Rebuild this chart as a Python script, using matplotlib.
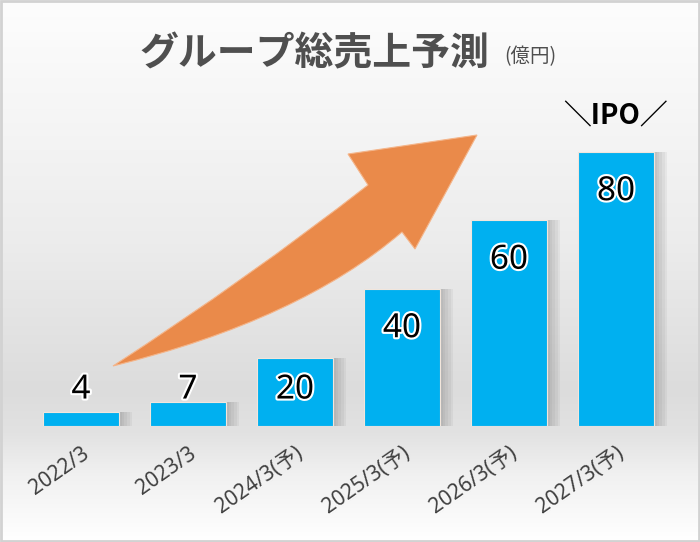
import numpy as np
import matplotlib
matplotlib.use('Agg')
import matplotlib.pyplot as plt
import matplotlib.patheffects as pe
from matplotlib.path import Path
from matplotlib.patches import PathPatch, Rectangle
from matplotlib.colors import LinearSegmentedColormap

plt.rcParams['font.family'] = ['Noto Sans', 'Noto Sans CJK JP', 'DejaVu Sans']

# Data
categories = ['2022/3', '2023/3', '2024/3(予)', '2025/3(予)', '2026/3(予)', '2027/3(予)']
sales = [4, 7, 20, 40, 60, 80]
title = 'グループ総売上予測'
unit = '(億円)'
ipo_label = '＼IPO／'

W, H = 700, 542
fig = plt.figure(figsize=(W / 100, H / 100), dpi=100)

# background gradient (whole figure)
bg = fig.add_axes([0, 0, 1, 1], zorder=-10)
stops = [(0.0, '#fdfdfd'), (0.2, '#f6f6f6'), (0.45, '#ececec'),
         (0.72, '#dcdcdc'), (0.80, '#e2e2e2'), (0.88, '#f1f1f1'), (1.0, '#ffffff')]
cmap = LinearSegmentedColormap.from_list('bg', stops)
grad = np.linspace(0, 1, 256).reshape(-1, 1)
bg.imshow(grad, aspect='auto', cmap=cmap, extent=[0, 1, 0, 1], origin='upper')
bg.set_xlim(0, 1)
bg.set_ylim(0, 1)
bg.axis('off')
bg.add_patch(Rectangle((0.0015, 0.002), 0.997, 0.996, fill=False,
                       edgecolor='#d2d2d2', lw=2, transform=bg.transAxes))

# main axes
ax = fig.add_axes([27.5 / W, (H - 426) / H, 642 / W, 308.25 / H])
ax.patch.set_alpha(0)
x = np.arange(len(sales))
bw = 0.71

# soft shadow to the right of the bars
for k in range(1, 6):
    ax.bar(x + 0.025 * k, sales, width=bw, color='#6a6a6a', alpha=0.08,
           linewidth=0, zorder=1)

ax.bar(x, sales, width=bw, color='#00b0f0', edgecolor='#f2e6dc',
       linewidth=0.8, zorder=3)

ax.set_xlim(-0.5, len(sales) - 0.5)
ax.set_ylim(0, 90)
for s in ax.spines.values():
    s.set_visible(False)
ax.set_yticks([])
ax.set_xticks(x)
ax.set_xticklabels(categories, rotation=35, ha='right', va='top',
                   rotation_mode='anchor', fontsize=15, color='#404040')
ax.tick_params(axis='x', length=0, pad=12)

# value labels
for xi, v in zip(x, sales):
    ly = max(v - 11.6, 10.5)
    ax.text(xi, ly, str(v), ha='center', va='center', fontsize=24,
            color='black', zorder=5,
            path_effects=[pe.withStroke(linewidth=3, foreground='white')])

ax.text(x[-1], 90.5, ipo_label, ha='center', va='center', fontsize=20,
        fontweight='bold', family=['Noto Sans CJK JP', 'DejaVu Sans'],
        color='black', clip_on=False)

# orange growth arrow (pixel coords -> figure fraction)
def P(px, py):
    return (px / W, 1 - py / H)

verts = [P(113, 366),
         P(250, 277), P(368, 185),     # upper shaft edge
         P(348, 154),                   # upper barb
         P(477, 135),                   # head tip
         P(415, 249),                   # lower barb
         P(402, 232),                   # lower notch
         P(300, 320), P(113, 366),      # lower shaft edge
         P(113, 366)]
codes = [Path.MOVETO,
         Path.CURVE3, Path.CURVE3,
         Path.LINETO, Path.LINETO, Path.LINETO, Path.LINETO,
         Path.CURVE3, Path.CURVE3,
         Path.CLOSEPOLY]
arrow = PathPatch(Path(verts, codes), facecolor='#ea8a4a', edgecolor='#f4b58a',
                  lw=0.8, transform=fig.transFigure, zorder=4)
fig.patches.append(arrow)

# title
fig.text(314 / W, 1 - 54 / H, title, ha='center', va='center', fontsize=28,
         fontweight='bold', color='#4f4f4f',
         family=['Noto Sans CJK JP', 'DejaVu Sans'])
fig.text(504 / W, 1 - 57 / H, unit, ha='left', va='center', fontsize=14,
         color='#4f4f4f', family=['Noto Sans CJK JP', 'DejaVu Sans'])

fig.savefig('out.png', dpi=100)
